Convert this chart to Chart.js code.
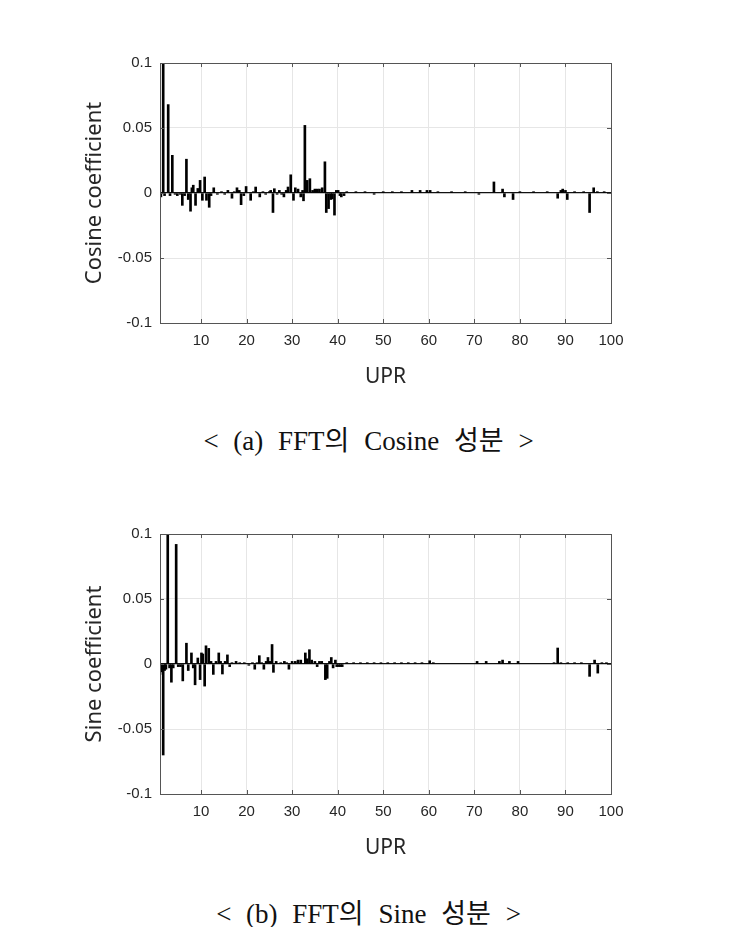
<!DOCTYPE html>
<html>
<head>
<meta charset="utf-8">
<script src="https://cdn.jsdelivr.net/npm/chart.js@4"></script>
<style>
  body { margin: 0; background: #fff; width: 737px; height: 927px; position: relative; overflow: hidden; }
  canvas { position: absolute; left: 0; }
  .caption {
    position: absolute; left: 0; width: 737px; text-align: center;
    font-family: "Liberation Serif", "DejaVu Serif", "Noto Sans CJK KR", serif;
    font-size: 27px; color: #111; word-spacing: 8px;
  }
</style>
</head>
<body>
<canvas id="cosChart" width="737" height="400" style="top:0px"></canvas>
<div class="caption" style="top:419px">&lt; (a) FFT의 Cosine 성분 &gt;</div>
<canvas id="sinChart" width="737" height="400" style="top:471px"></canvas>
<div class="caption" style="top:892px">&lt; (b) FFT의 Sine 성분 &gt;</div>
<script>
// x tick labels and y tick values
const xTicks = [10, 20, 30, 40, 50, 60, 70, 80, 90, 100];
const yTicks = [-0.1, -0.05, 0, 0.05, 0.1];

// cosine coefficients
const cosineUpr = [1.2, 1.7, 2.0, 2.8, 3.2, 3.7, 4.3, 4.8, 5.4, 5.9, 6.4, 6.8, 7.2, 7.7, 8.0, 8.3, 8.8, 9.3, 9.8, 10.3,
  10.8, 11.2, 11.8, 12.2, 12.8, 13.6, 14.5, 15.2, 15.9, 16.8, 17.3, 17.9, 18.4, 18.8, 19.4, 19.9, 20.9, 21.5, 22.0, 22.9,
  23.6, 24.2, 25.0, 25.3, 25.8, 26.1, 26.7, 27.2, 27.7, 28.2, 28.7, 29.1, 29.7, 30.3, 30.7, 31.3, 31.9, 32.3, 32.5, 32.8,
  33.3, 33.9, 34.5, 35.0, 35.5, 36.0, 36.6, 37.2, 37.5, 38.0, 38.5, 38.8, 39.3, 39.7, 40.1, 40.5, 40.8, 41.4, 42.0, 44.0,
  46.0, 48.0, 50.0, 52.0, 54.0, 56.3, 58.1, 59.6, 60.3, 62.0, 65.0, 68.0, 71.0, 74.3, 76.2, 76.6, 78.5, 80.0, 83.0, 86.0,
  88.3, 89.0, 89.4, 90.0, 90.4, 92.0, 94.0, 95.3, 96.2, 97.0, 98.5];
const cosineCoef = [-0.003, 0.1, -0.002, 0.068, -0.002, 0.029, -0.001, -0.002, -0.001, -0.0095, -0.002, 0.026, -0.005, -0.014, 0.004, 0.006, -0.0095, 0.0035, 0.0097, -0.0056,
  0.0123, -0.0056, -0.011, -0.002, 0.004, -0.001, 0.001, -0.001, 0.002, -0.004, 0.001, 0.004, 0.002, -0.009, -0.002, 0.005, -0.0056, 0.001, 0.0046, -0.003,
  0.001, -0.001, 0.001, 0.002, -0.015, 0.0033, -0.001, 0.002, -0.001, -0.003, 0.002, 0.0046, 0.014, -0.0056, 0.004, 0.003, -0.003, 0.002, -0.006, 0.052,
  0.0097, 0.011, 0.002, 0.003, 0.003, 0.003, 0.004, 0.024, -0.015, -0.012, -0.005, -0.0045, -0.017, 0.002, 0.002, -0.002, -0.003, -0.002, 0.001, 0.001,
  0.001, -0.001, 0.001, 0.001, 0.001, 0.002, 0.002, 0.002, 0.002, 0.001, 0.001, 0.001, -0.001, 0.0085, 0.003, -0.003, -0.005, 0.001, 0.001, 0.001,
  -0.004, 0.002, 0.003, 0.002, -0.005, 0.001, 0.001, -0.015, 0.004, 0.001, 0.001];

// sine coefficients
const sineUpr = [1.0, 1.3, 1.7, 2.0, 2.3, 2.7, 3.1, 3.5, 3.9, 4.55, 5.0, 5.5, 6.0, 6.8, 7.2, 7.9, 8.3, 8.7, 9.3, 9.8,
  10.1, 10.4, 10.8, 11.1, 11.7, 12.2, 12.7, 13.3, 13.9, 14.3, 14.7, 15.3, 15.8, 16.3, 16.8, 17.7, 18.5, 19.5, 20.5, 21.3,
  21.8, 22.3, 22.8, 23.3, 23.8, 24.3, 24.7, 25.2, 25.6, 25.9, 26.5, 27.5, 28.3, 28.8, 29.3, 30.0, 30.7, 31.3, 31.9, 32.9,
  33.3, 33.8, 34.3, 35.0, 35.5, 36.0, 36.5, 37.3, 37.7, 38.2, 38.6, 39.0, 39.5, 39.8, 40.2, 40.6, 41.0, 42.0, 43.5, 45.0,
  46.5, 48.0, 49.5, 51.0, 52.5, 54.0, 55.5, 57.0, 58.5, 60.2, 61.0, 70.6, 72.6, 75.5, 76.2, 77.7, 79.6, 87.5, 88.3, 89.0,
  90.5, 92.0, 93.5, 95.3, 96.4, 97.1, 98.0, 99.0];
const sineCoef = [-0.008, -0.006, -0.07, -0.005, -0.004, 0.1, -0.003, -0.014, -0.003, 0.092, -0.002, -0.002, -0.013, 0.016, -0.005, 0.0085, -0.003, -0.016, 0.0046, -0.012,
  0.0085, 0.0077, -0.017, 0.014, 0.012, 0.002, -0.008, 0.002, 0.0085, 0.002, -0.0077, 0.002, 0.007, -0.002, 0.001, 0.002, 0.001, 0.001, -0.001, 0.001,
  -0.004, 0.001, 0.0064, 0.001, -0.004, 0.002, 0.005, 0.002, 0.015, -0.0064, 0.002, 0.001, 0.002, 0.001, -0.004, 0.002, 0.002, 0.003, 0.003, 0.0085,
  0.004, 0.011, 0.003, 0.002, -0.002, 0.002, 0.002, -0.012, -0.011, 0.002, 0.005, -0.003, 0.003, -0.002, -0.002, -0.002, -0.002, 0.001, 0.001, 0.001,
  0.001, 0.001, 0.001, 0.001, 0.001, 0.001, 0.001, 0.001, 0.001, 0.0025, 0.001, 0.002, 0.002, 0.002, 0.003, 0.002, 0.002, 0.001, 0.0123, 0.001,
  0.001, 0.001, 0.001, -0.0095, 0.003, -0.007, 0.001, 0.001];

// frame + inward tick marks like the original figure
const framePlugin = {
  id: "frame",
  afterDraw(chart) {
    const { ctx, chartArea: a, scales } = chart;
    ctx.save();
    ctx.strokeStyle = "#555";
    ctx.lineWidth = 1;
    ctx.strokeRect(a.left + 0.5, a.top + 0.5, a.right - a.left, a.bottom - a.top);
    ctx.beginPath();
    xTicks.forEach((v) => {
      const x = Math.round(scales.x.getPixelForValue(v)) + 0.5;
      ctx.moveTo(x, a.bottom); ctx.lineTo(x, a.bottom - 4);
      ctx.moveTo(x, a.top); ctx.lineTo(x, a.top + 4);
    });
    yTicks.forEach((v) => {
      const y = Math.round(scales.y.getPixelForValue(v)) + 0.5;
      ctx.moveTo(a.left, y); ctx.lineTo(a.left + 4, y);
      ctx.moveTo(a.right, y); ctx.lineTo(a.right - 4, y);
    });
    ctx.stroke();
    ctx.restore();
  }
};

function makeChart(id, uprs, coefs, yTitle) {
  const points = uprs.map((u, i) => ({ x: u, y: coefs[i] }));
  return new Chart(document.getElementById(id), {
    type: "bar",
    data: {
      datasets: [{
        data: points,
        backgroundColor: "#000",
        borderWidth: 0,
        barThickness: 2
      }]
    },
    options: {
      responsive: false,
      animation: false,
      layout: { padding: { left: 0, right: 126, top: 63, bottom: 0 } },
      plugins: { legend: { display: false }, tooltip: { enabled: false } },
      scales: {
        x: {
          type: "linear",
          min: 1,
          max: 100,
          offset: false,
          afterBuildTicks: (scale) => { scale.ticks = xTicks.map((v) => ({ value: v })); },
          afterFit: (scale) => { scale.height = 77; },
          grid: { color: "#e6e6e6", drawTicks: false, offset: false },
          border: { color: "#333" },
          ticks: {
            padding: 9,
            color: "#262626",
            font: { family: "Liberation Sans", size: 15 },
            maxRotation: 0,
            callback: (v) => String(v)
          },
          title: {
            display: true,
            text: "UPR",
            color: "#262626",
            font: { family: "Noto Sans", size: 21 },
            padding: { top: 0, bottom: 10 }
          }
        },
        y: {
          min: -0.1,
          max: 0.1,
          afterBuildTicks: (scale) => { scale.ticks = yTicks.map((v) => ({ value: v })); },
          afterFit: (scale) => { scale.width = 160; },
          grid: {
            drawTicks: false,
            color: (c) => (c.tick && c.tick.value === 0 ? "#111" : "#e6e6e6"),
            lineWidth: (c) => (c.tick && c.tick.value === 0 ? 1.3 : 1)
          },
          border: { color: "#333" },
          ticks: {
            padding: 8,
            color: "#262626",
            font: { family: "Liberation Sans", size: 15 },
            callback: (v) => String(Number(v.toFixed(2)))
          },
          title: {
            display: true,
            text: yTitle,
            color: "#262626",
            font: { family: "Noto Sans", size: 22 },
            padding: { top: 82, bottom: 0 }
          }
        }
      }
    },
    plugins: [framePlugin]
  });
}

makeChart("cosChart", cosineUpr, cosineCoef, "Cosine coefficient");
makeChart("sinChart", sineUpr, sineCoef, "Sine coefficient");
</script>
</body>
</html>
